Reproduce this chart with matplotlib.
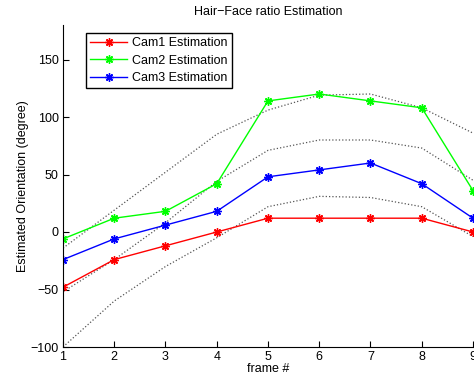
import matplotlib
matplotlib.use("Agg")
import matplotlib.pyplot as plt

plt.rcParams["font.family"] = ["Liberation Sans", "DejaVu Sans"]

frames = [1, 2, 3, 4, 5, 6, 7, 8, 9]
cam1 = [-48, -24, -12, 0, 12, 12, 12, 12, 0]
cam2 = [-6, 12, 18, 42, 114, 120, 114, 108, 36]
cam3 = [-24, -6, 6, 18, 48, 54, 60, 42, 12]

# dotted reference bands
band_upper = [-14, 19, 52, 85, 106, 119, 120, 108, 86]
band_mid = [-52, -24, 8, 44, 71, 80, 80, 73, 45]
band_lower = [-100, -60, -30, -5, 22, 31, 30, 22, -4]

fig = plt.figure(figsize=(4.74, 3.85), dpi=100)
ax = fig.add_axes([63 / 474, 1 - 347 / 385, 410 / 474, 322 / 385])

for band in (band_upper, band_mid, band_lower):
    ax.plot(frames, band, ":", color="#555555", lw=0.9)

star = (8, 2, 0)  # matlab-like asterisk
ax.plot(frames, cam1, "-", marker=star, color="#ff0000", lw=1, ms=6, mew=1, label="Cam1 Estimation")
ax.plot(frames, cam2, "-", marker=star, color="#00ff00", lw=1, ms=6, mew=1, label="Cam2 Estimation")
ax.plot(frames, cam3, "-", marker=star, color="#0000ff", lw=1, ms=6, mew=1, label="Cam3 Estimation")

ax.set_xlim(1, 9)
ax.set_ylim(-100, 180)
ax.set_xticks(frames)
ax.set_yticks([-100, -50, 0, 50, 100, 150])
ax.tick_params(direction="in", length=4, labelsize=9, pad=3)
ax.spines["top"].set_visible(False)
ax.spines["right"].set_visible(False)

ax.set_title("Hair\u2212Face ratio Estimation", fontsize=9, pad=7)
ax.set_xlabel("frame #", fontsize=9, labelpad=0)
ax.set_ylabel("Estimated Orientation (degree)", fontsize=9, labelpad=1)

leg = ax.legend(loc="upper left", bbox_to_anchor=(0.055, 0.975), fontsize=9,
                fancybox=False, framealpha=1, edgecolor="black",
                handlelength=3.0, borderpad=0.35, labelspacing=0.42,
                handletextpad=0.4, borderaxespad=0)
leg.get_frame().set_linewidth(1)

fig.savefig("out.png", dpi=100)
